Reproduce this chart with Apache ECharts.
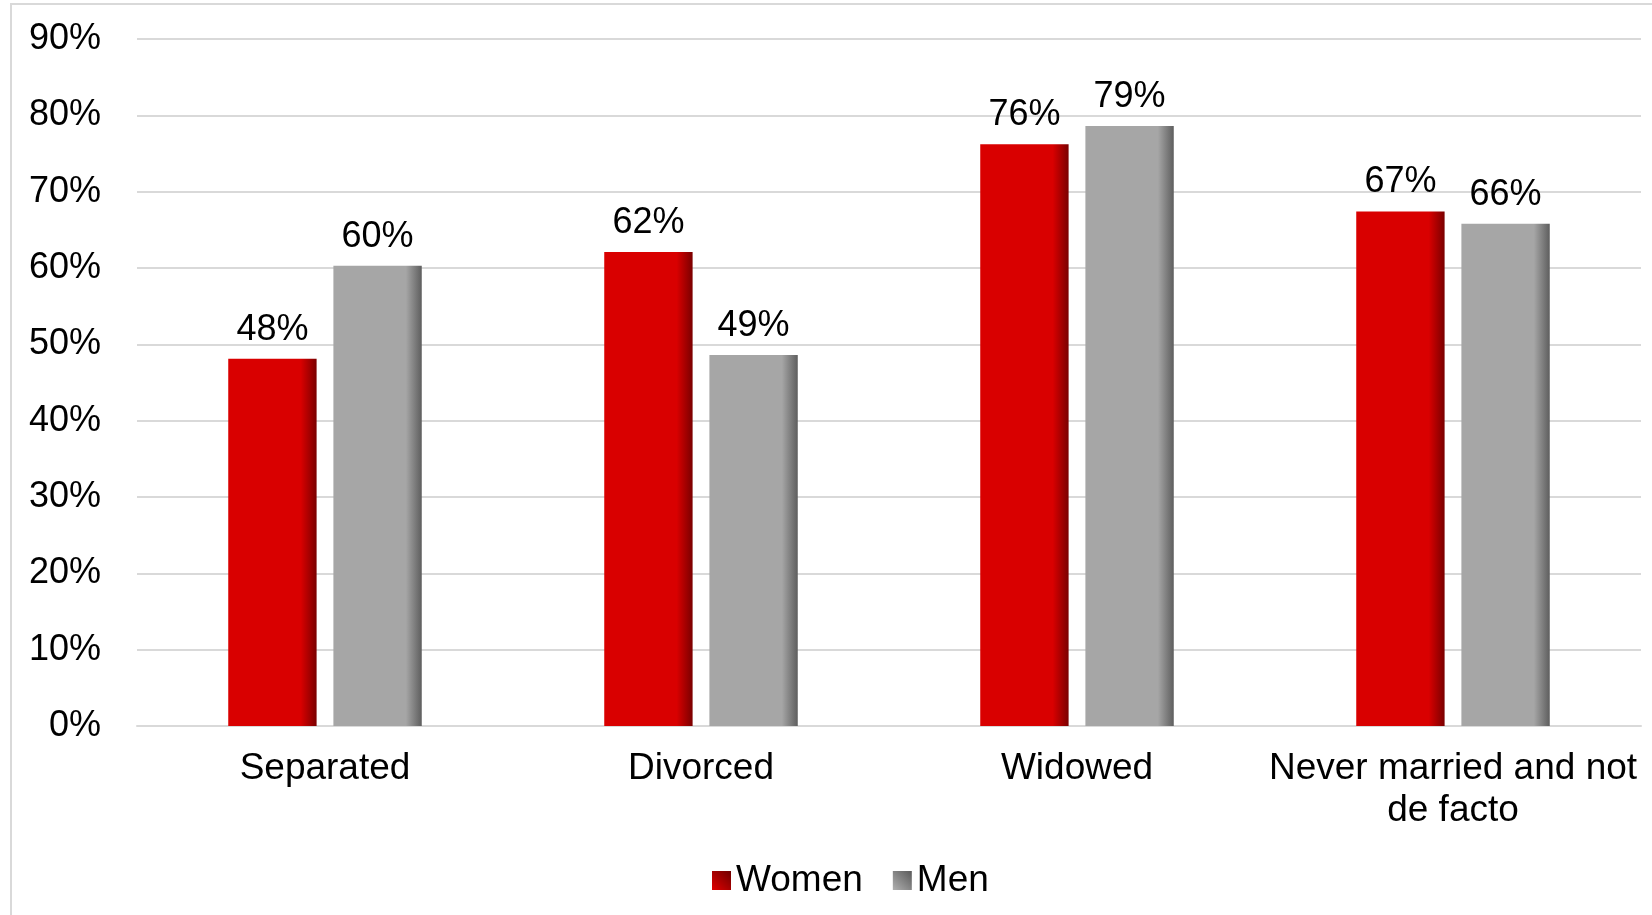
<!DOCTYPE html>
<html>
<head>
<meta charset="utf-8">
<script src="https://cdn.jsdelivr.net/npm/echarts@6/dist/echarts.min.js"></script>
<style>
  html, body { margin: 0; padding: 0; background: #fff; }
  #chart { width: 1652px; height: 915px; }
</style>
</head>
<body>
<div id="chart"></div>
<script>
const categories = ['Separated', 'Divorced', 'Widowed', 'Never married and not\nde facto'];
const women = [48.1, 62.1, 76.2, 67.4];
const men = [60.3, 48.6, 78.6, 65.8];
const yTicks = [0, 10, 20, 30, 40, 50, 60, 70, 80, 90];

const font = 'Liberation Sans, Arial, sans-serif';

function barFill(base, dark) {
  return new echarts.graphic.LinearGradient(0, 0, 1, 0, [
    { offset: 0, color: base },
    { offset: 0.82, color: base },
    { offset: 1, color: dark },
  ]);
}

function iconFill(base, dark) {
  return new echarts.graphic.LinearGradient(0, 1, 1, 0, [
    { offset: 0, color: base },
    { offset: 1, color: dark },
  ]);
}

const labelStyle = {
  show: true,
  position: 'top',
  distance: 11,
  color: '#000',
  fontFamily: font,
  fontSize: 36,
  formatter: (p) => Math.round(p.value) + '%',
};

const chart = echarts.init(document.getElementById('chart'));
chart.setOption({
  backgroundColor: '#fff',
  animation: false,
  graphic: [
    {
      type: 'rect',
      shape: { x: 11, y: 4, width: 1700, height: 1000 },
      style: { fill: 'none', stroke: '#d9d9d9', lineWidth: 2 },
      silent: true,
      z: -1,
    },
  ],
  grid: { left: 137, right: 11, top: 39, bottom: 189 },
  legend: {
    left: 707,
    top: 857,
    icon: 'rect',
    itemWidth: 19,
    itemHeight: 19,
    itemGap: 30,
    textStyle: { color: '#000', fontFamily: font, fontSize: 37 },
    data: [
      { name: 'Women', itemStyle: { color: iconFill('#e00000', '#6e0000') } },
      { name: 'Men', itemStyle: { color: iconFill('#b0b0b0', '#5a5a5a') } },
    ],
  },
  xAxis: {
    type: 'category',
    data: categories,
    axisLine: { lineStyle: { color: '#d9d9d9', width: 2 } },
    axisTick: { show: false },
    axisLabel: {
      color: '#000',
      fontFamily: font,
      fontSize: 37,
      lineHeight: 42,
      margin: 22,
      interval: 0,
    },
  },
  yAxis: {
    type: 'value',
    min: yTicks[0],
    max: yTicks[yTicks.length - 1],
    interval: 10,
    axisLine: { show: false },
    axisTick: { show: false },
    axisLabel: {
      color: '#000',
      fontFamily: font,
      fontSize: 36,
      margin: 36,
      formatter: '{value}%',
    },
    splitLine: { lineStyle: { color: '#d9d9d9', width: 2 } },
  },
  series: [
    {
      name: 'Women',
      type: 'bar',
      data: women,
      barWidth: '23.5%',
      barGap: '19%',
      itemStyle: { color: barFill('#d90000', '#7a0000') },
      label: labelStyle,
    },
    {
      name: 'Men',
      type: 'bar',
      data: men,
      barWidth: '23.5%',
      itemStyle: { color: barFill('#a6a6a6', '#5e5e5e') },
      label: labelStyle,
    },
  ],
});
</script>
</body>
</html>
